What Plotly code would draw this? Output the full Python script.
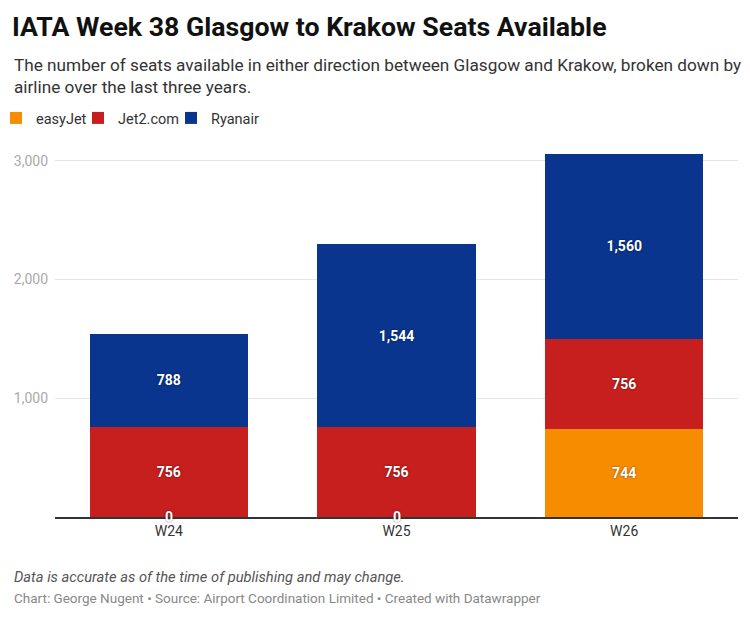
import plotly.graph_objects as go

# data
weeks = ["W24", "W25", "W26"]
easyjet = [0, 0, 744]
jet2 = [756, 756, 756]
ryanair = [788, 1544, 1560]

airlines = ["easyJet", "Jet2.com", "Ryanair"]
colours = ["#f88c00", "#c71e1e", "#09358f"]
series = [easyjet, jet2, ryanair]

# the page body has an 8px margin, so work in page pixels and shift by it
OFF = 8
W, H = 750 - OFF, 619 - OFF
ML, MR, MT, MB = 55 - OFF, 12, 149 - OFF, 102
PW = W - ML - MR
PH = H - MT - MB


def px_x(px):
    # page pixel -> paper x
    return (px - OFF - ML) / PW


def px_y(py):
    return (H - MB - (py - OFF)) / PH


label_font = dict(family="Roboto", size=14, color="white", weight="bold",
                  shadow="0px 0px 2px rgba(0,0,0,0.6)")

# one legend per airline so each entry can sit where the original has it
legend_x = [-4, 78, 171]
legend_names = ["legend", "legend2", "legend3"]

fig = go.Figure()
for name, vals, col, lg in zip(airlines, series, colours, legend_names):
    fig.add_trace(go.Bar(
        x=weeks, y=vals, name=name, legend=lg,
        marker=dict(color=col, line=dict(width=0)),
        text=[f"{v:,}" if v else "" for v in vals],
        textposition="inside", insidetextanchor="middle",
        textfont=label_font, constraintext="none",
        hovertemplate="%{x}: %{y:,}<extra>" + name + "</extra>",
    ))

# zero values don't get an inside label, put them on the baseline
for name, vals in zip(airlines, series):
    for wk, v in zip(weeks, vals):
        if v == 0:
            fig.add_annotation(x=wk, y=0, text="0", showarrow=False,
                               yanchor="middle", font=label_font)

fig.add_annotation(
    xref="paper", yref="paper", x=px_x(12), y=px_y(76), xanchor="left", yanchor="middle",
    align="left", showarrow=False,
    text="The number of seats available in either direction between Glasgow and Krakow, broken down by<br>airline over the last three years.",
    font=dict(family="Roboto", size=17.2, color="#333333"),
)
fig.add_annotation(
    xref="paper", yref="paper", x=px_x(12), y=px_y(577), xanchor="left", yanchor="middle",
    showarrow=False, text="<i>Data is accurate as of the time of publishing and may change.</i>",
    font=dict(family="Roboto", size=14.7, color="#555555"),
)
fig.add_annotation(
    xref="paper", yref="paper", x=px_x(12), y=px_y(598), xanchor="left", yanchor="middle",
    showarrow=False,
    text="Chart: George Nugent • Source: Airport Coordination Limited • Created with Datawrapper",
    font=dict(family="Roboto", size=13.5, color="#888888"),
)

legend_style = dict(orientation="h", yref="paper", y=px_y(118), xanchor="left", yanchor="middle",
                    font=dict(family="Roboto", size=14.5, color="#333333"),
                    itemclick=False, bgcolor="rgba(0,0,0,0)")
legends = {lg: dict(legend_style, x=px_x(lx), xref="paper")
           for lg, lx in zip(legend_names, legend_x)}

fig.update_layout(
    width=W, height=H,
    margin=dict(l=ML, r=MR, t=MT, b=MB, autoexpand=False),
    barmode="stack", bargap=0.305,
    plot_bgcolor="white", paper_bgcolor="white",
    font=dict(family="Roboto", color="#333333"),
    title=dict(text="<b>IATA Week 38 Glasgow to Krakow Seats Available</b>",
               xref="container", yref="container", x=(12 - OFF) / W, y=1 - (27 - OFF) / H,
               xanchor="left", yanchor="middle",
               font=dict(family="Roboto", size=26.7, color="#111111")),
    showlegend=True,
    **legends,
)
fig.update_xaxes(range=[-0.5, 2.5], showline=True, linecolor="#333333", linewidth=1.5,
                 ticks="", tickfont=dict(family="Roboto", size=14, color="#333333"),
                 showgrid=False)
fig.update_yaxes(range=[0, 3100], tickvals=[1000, 2000, 3000], tickformat=",",
                 showgrid=True, gridcolor="#e6e6e6", gridwidth=1, zeroline=False,
                 tickfont=dict(family="Roboto", size=14, color="#aaaaaa"),
                 ticklabelstandoff=6)

fig.write_html("out.html")
